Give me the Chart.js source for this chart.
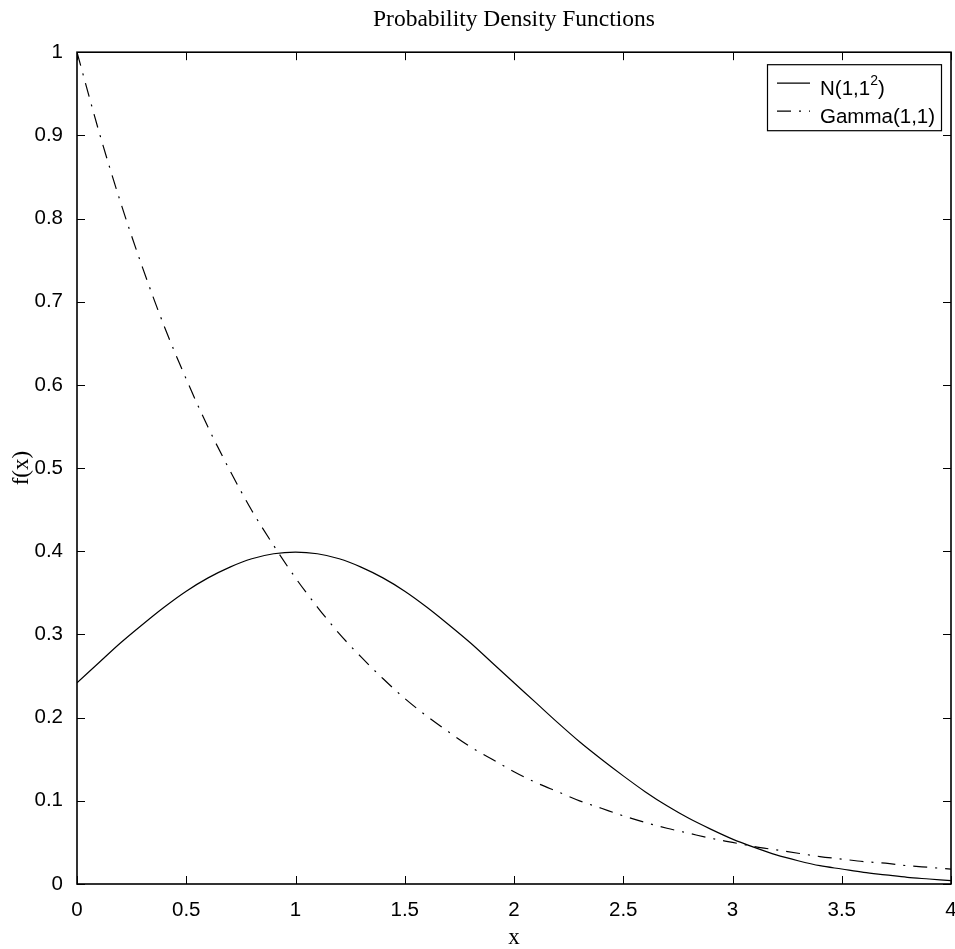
<!DOCTYPE html>
<html>
<head>
<meta charset="utf-8">
<script src="https://cdn.jsdelivr.net/npm/chart.js@4.4.1/dist/chart.umd.min.js"></script>
<style>
  html, body { margin: 0; padding: 0; background: #fff; }
</style>
</head>
<body>
<canvas id="pdfChart" width="955" height="949"></canvas>
<script>
// values, x from 0 to 4 in steps of 0.1
const xValues = [0, 0.1, 0.2, 0.3, 0.4, 0.5, 0.6, 0.7, 0.8, 0.9,
                 1, 1.1, 1.2, 1.3, 1.4, 1.5, 1.6, 1.7, 1.8, 1.9,
                 2, 2.1, 2.2, 2.3, 2.4, 2.5, 2.6, 2.7, 2.8, 2.9,
                 3, 3.1, 3.2, 3.3, 3.4, 3.5, 3.6, 3.7, 3.8, 3.9, 4];

const normalValues = [0.242, 0.266, 0.290, 0.312, 0.333, 0.352, 0.368, 0.381, 0.391, 0.397,
                      0.399, 0.397, 0.391, 0.381, 0.368, 0.352, 0.333, 0.312, 0.290, 0.266,
                      0.242, 0.218, 0.194, 0.171, 0.150, 0.130, 0.111, 0.094, 0.079, 0.066,
                      0.054, 0.044, 0.035, 0.028, 0.022, 0.018, 0.014, 0.011, 0.008, 0.006, 0.004];

const gammaValues = [1.000, 0.905, 0.819, 0.741, 0.670, 0.607, 0.549, 0.497, 0.449, 0.407,
                     0.368, 0.333, 0.301, 0.273, 0.247, 0.223, 0.202, 0.183, 0.165, 0.150,
                     0.135, 0.122, 0.111, 0.100, 0.091, 0.082, 0.074, 0.067, 0.061, 0.055,
                     0.050, 0.045, 0.041, 0.037, 0.033, 0.030, 0.027, 0.025, 0.022, 0.020, 0.018];

const seriesLabels = ["N(1,1²)", "Gamma(1,1)"];

const tickFont = { family: "'Liberation Sans', Arial, Helvetica", size: 20.5 };
const serifFont = { family: "'Liberation Serif', 'Times New Roman', serif", size: 23 };

// MATLAB style box with inward ticks on all four sides
const boxPlugin = {
    id: "matlabBox",
    afterDatasetsDraw(chart) {
        const ctx = chart.ctx;
        const a = chart.chartArea;
        const xs = chart.scales.x;
        const ys = chart.scales.y;
        const len = 8;
        ctx.save();
        ctx.strokeStyle = "#000";
        ctx.lineWidth = 1;
        ctx.beginPath();
        xs.ticks.forEach(t => {
            const px = Math.round(xs.getPixelForValue(t.value)) + 0.5;
            ctx.moveTo(px, a.bottom); ctx.lineTo(px, a.bottom - len);
            ctx.moveTo(px, a.top); ctx.lineTo(px, a.top + len);
        });
        ys.ticks.forEach(t => {
            const py = Math.round(ys.getPixelForValue(t.value)) + 0.5;
            ctx.moveTo(a.left, py); ctx.lineTo(a.left + len, py);
            ctx.moveTo(a.right, py); ctx.lineTo(a.right - len, py);
        });
        ctx.stroke();
        ctx.lineWidth = 1.6;
        ctx.strokeRect(a.left, a.top, a.right - a.left, a.bottom - a.top);
        ctx.restore();
    },
    afterDraw(chart) {
        // legend box in the top right corner
        const ctx = chart.ctx;
        const a = chart.chartArea;
        const w = 174, h = 66;
        const bx = a.right - 10 - w;
        const by = a.top + 12;
        ctx.save();
        ctx.fillStyle = "#fff";
        ctx.fillRect(bx, by, w, h);
        ctx.strokeStyle = "#000";
        ctx.lineWidth = 1.2;
        ctx.strokeRect(bx + 0.5, by + 0.5, w, h);
        chart.data.datasets.forEach((ds, i) => {
            const cy = by + 25 + i * 28;
            ctx.beginPath();
            ctx.setLineDash(ds.borderDash || []);
            ctx.lineWidth = ds.borderWidth;
            ctx.moveTo(bx + 10, cy - 6);
            ctx.lineTo(bx + 43, cy - 6);
            ctx.stroke();
            ctx.setLineDash([]);
            ctx.fillStyle = "#000";
            ctx.textBaseline = "middle";
            ctx.font = tickFont.size + "px " + tickFont.family;
            let tx = bx + 53;
            const parts = ds.label.split("²");
            if (parts.length > 1) {
                ctx.fillText(parts[0], tx, cy);
                tx += ctx.measureText(parts[0]).width;
                ctx.font = "14px " + tickFont.family;
                ctx.fillText("2", tx, cy - 8);
                tx += ctx.measureText("2").width;
                ctx.font = tickFont.size + "px " + tickFont.family;
                ctx.fillText(parts[1], tx, cy);
            } else {
                ctx.fillText(ds.label, tx, cy);
            }
        });
        ctx.restore();
    }
};

new Chart(document.getElementById("pdfChart"), {
    type: "scatter",
    data: {
        datasets: [
            {
                label: seriesLabels[0],
                data: xValues.map((x, i) => ({ x: x, y: normalValues[i] })),
                showLine: true,
                borderColor: "#000",
                borderWidth: 1.2,
                pointRadius: 0,
                cubicInterpolationMode: "monotone"
            },
            {
                label: seriesLabels[1],
                data: xValues.map((x, i) => ({ x: x, y: gammaValues[i] })),
                showLine: true,
                borderColor: "#000",
                borderWidth: 1.2,
                borderDash: [14, 8, 2, 8],
                pointRadius: 0,
                cubicInterpolationMode: "monotone"
            }
        ]
    },
    options: {
        responsive: false,
        animation: false,
        devicePixelRatio: 1,
        layout: { padding: { left: 0, right: 4, top: 0, bottom: 0 } },
        plugins: {
            legend: { display: false },
            tooltip: { enabled: false },
            title: {
                display: true,
                fullSize: false,
                text: "Probability Density Functions",
                color: "#000",
                font: { family: serifFont.family, size: 23.5, weight: "normal" },
                padding: { top: 6, bottom: 18 }
            }
        },
        scales: {
            x: {
                type: "linear",
                min: 0,
                max: 4,
                ticks: {
                    stepSize: 0.5,
                    color: "#000",
                    font: tickFont,
                    padding: 6,
                    maxRotation: 0,
                    callback: v => String(Math.round(v * 10) / 10)
                },
                grid: { display: false },
                border: { display: false },
                title: {
                    display: true,
                    text: "x",
                    color: "#000",
                    font: { family: serifFont.family, size: 23, lineHeight: 1 },
                    padding: { top: 0, bottom: 0 }
                },
                afterFit: scale => {
                    scale.height = 65;
                    scale.paddingRight = 0;
                    scale.paddingLeft = 0;
                }
            },
            y: {
                type: "linear",
                min: 0,
                max: 1,
                ticks: {
                    stepSize: 0.1,
                    color: "#000",
                    font: tickFont,
                    padding: 6,
                    callback: v => String(Math.round(v * 10) / 10)
                },
                grid: { display: false },
                border: { display: false },
                title: {
                    display: true,
                    text: "f(x)",
                    color: "#000",
                    font: serifFont,
                    padding: { top: 8, bottom: 0 }
                },
                afterFit: scale => {
                    scale.width = 77;
                    scale.paddingTop = 0;
                    scale.paddingBottom = 0;
                }
            }
        }
    },
    plugins: [boxPlugin]
});
</script>
</body>
</html>
